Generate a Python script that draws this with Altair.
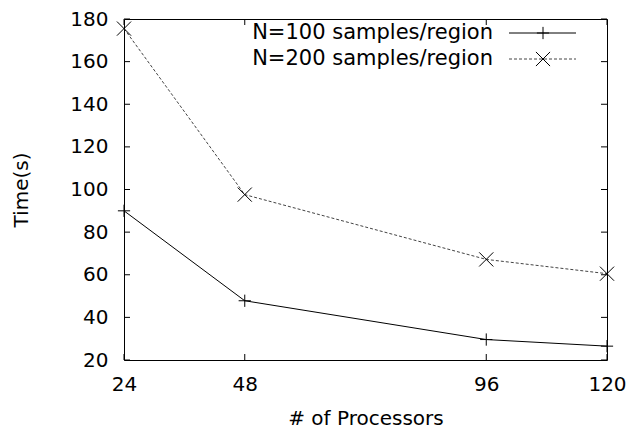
import altair as alt
import pandas as pd

# ---- data ----
processors = [24, 48, 96, 120]
time_n100 = [90.0, 47.8, 29.6, 26.5]
time_n200 = [175.5, 97.6, 67.2, 60.5]
series_labels = ["N=100 samples/region", "N=200 samples/region"]
x_ticks = [24, 48, 96, 120]
y_ticks = [20, 40, 60, 80, 100, 120, 140, 160, 180]

W, H = 483, 341
FONT = "DejaVu Sans"
PLUS = "M-1,0L1,0M0,-1L0,1"
CROSS = "M-1,-1L1,1M-1,1L1,-1"

xs = alt.Scale(domain=[24, 120], nice=False, zero=False)
ys = alt.Scale(domain=[20, 180], nice=False, zero=False)

df1 = pd.DataFrame({"p": processors, "t": time_n100})
df2 = pd.DataFrame({"p": processors, "t": time_n200})
dfx = pd.DataFrame({"p": x_ticks})
dfy = pd.DataFrame({"t": y_ticks})
one = pd.DataFrame({"k": [0]})

x_axis = alt.Axis(values=x_ticks, title="# of Processors", grid=False, ticks=False,
                  domain=False, labelPadding=14, titlePadding=14, labelFlush=False,
                  labelOverlap=False, labelFontSize=20, titleFontSize=20,
                  labelFont=FONT, titleFont=FONT, labelColor="black",
                  titleColor="black", titleFontWeight="normal")
y_axis = alt.Axis(values=y_ticks, title="Time(s)", grid=False, ticks=False,
                  domain=False, labelPadding=16, titlePadding=38, labelFlush=False,
                  labelOverlap=False, labelFontSize=20, titleFontSize=20,
                  labelFont=FONT, titleFont=FONT, labelColor="black",
                  titleColor="black", titleFontWeight="normal")

X = alt.X("p:Q", scale=xs, axis=x_axis)
Y = alt.Y("t:Q", scale=ys, axis=y_axis)

line1 = alt.Chart(df1).mark_line(color="black", strokeWidth=1).encode(x=X, y=Y)
pts1 = alt.Chart(df1).mark_point(shape=PLUS, size=150, filled=False, color="black",
                                 strokeWidth=1, opacity=1).encode(x=X, y=Y)
line2 = alt.Chart(df2).mark_line(color="#444444", strokeWidth=1,
                                 strokeDash=[3, 2]).encode(x=X, y=Y)
pts2 = alt.Chart(df2).mark_point(shape=CROSS, size=200, filled=False, color="black",
                                 strokeWidth=1, opacity=1).encode(x=X, y=Y)

# inward ticks on all four sides
tick_left = alt.Chart(dfy).mark_rule(color="black", strokeWidth=1).encode(
    y=Y, x=alt.value(0), x2=alt.value(6))
tick_right = alt.Chart(dfy).mark_rule(color="black", strokeWidth=1).encode(
    y=Y, x=alt.value(W - 6), x2=alt.value(W))
tick_bottom = alt.Chart(dfx).mark_rule(color="black", strokeWidth=1).encode(
    x=X, y=alt.value(H - 6), y2=alt.value(H))
tick_top = alt.Chart(dfx).mark_rule(color="black", strokeWidth=1).encode(
    x=X, y=alt.value(0), y2=alt.value(6))

# key (legend) in the top-right corner
legend_layers = []
row_y = [14, 40]
styles = [
    dict(color="black", dash=[1, 0], shape=PLUS, size=150),
    dict(color="#444444", dash=[3, 2], shape=CROSS, size=200),
]
for label, yy, st in zip(series_labels, row_y, styles):
    legend_layers.append(
        alt.Chart(one).mark_text(text=label, align="right", baseline="middle",
                                 font=FONT, fontSize=21, color="black").encode(
            x=alt.value(369), y=alt.value(yy)))
    legend_layers.append(
        alt.Chart(one).mark_rule(color=st["color"], strokeWidth=1,
                                 strokeDash=st["dash"]).encode(
            x=alt.value(385), x2=alt.value(452), y=alt.value(yy)))
    legend_layers.append(
        alt.Chart(one).mark_point(shape=st["shape"], size=st["size"], filled=False,
                                  color="black", strokeWidth=1, opacity=1).encode(
            x=alt.value(419), y=alt.value(yy)))

chart = alt.layer(
    line1, line2, pts1, pts2, tick_left, tick_right, tick_bottom, tick_top,
    *legend_layers
).properties(
    width=W, height=H,
    autosize=alt.AutoSizeParams(type="none"),
    padding={"left": 116, "top": 11, "right": 19, "bottom": 70},
    background="white",
).configure_view(
    stroke="black", strokeWidth=1
)

chart.save("out.html", embed_options={"renderer": "svg", "actions": False})
